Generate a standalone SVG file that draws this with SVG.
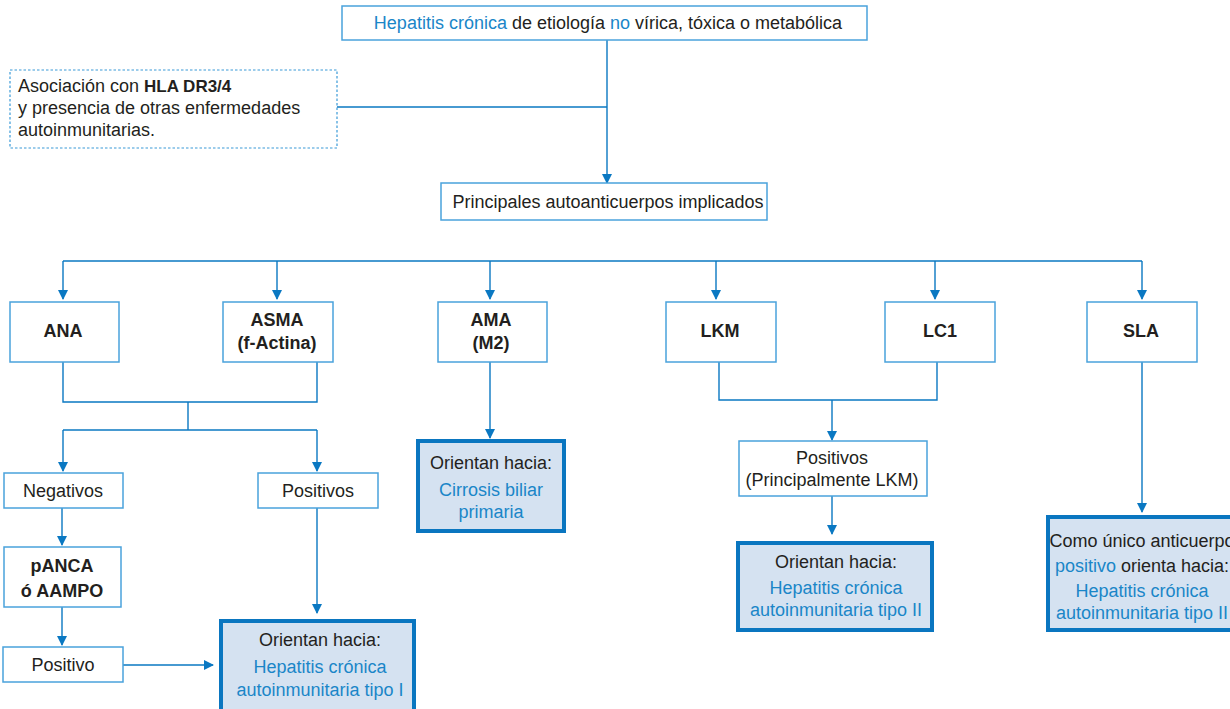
<svg xmlns="http://www.w3.org/2000/svg" width="1230" height="709" viewBox="0 0 1230 709">
<defs>
<marker id="ah" markerWidth="10" markerHeight="10" refX="9" refY="5" orient="auto" markerUnits="userSpaceOnUse">
<path d="M0,0 L10,5 L0,10 Z" fill="#0a78c2"/>
</marker>
<style>
text{font-family:"Liberation Sans Narrow","Liberation Sans",Arial,sans-serif;font-size:18px;fill:#231f20;text-anchor:middle}
.b{font-family:"Liberation Sans",Arial,sans-serif;font-weight:bold;font-size:18px}
.bl{fill:#1a86c8}
.box{fill:#fff;stroke:#4aa2dc;stroke-width:1.5}
.th{fill:#d5e2f1;stroke:#0a76c0;stroke-width:4}
.dot{fill:#fff;stroke:#3a9ad8;stroke-width:1.2;stroke-dasharray:2.5 2}
.ln{fill:none;stroke:#0a78c2;stroke-width:1.4}
</style>
</defs>
<rect width="1230" height="709" fill="#fff"/>
<g id="connectors">
<path class="ln" d="M607,40 V183" marker-end="url(#ah)"/>
<path class="ln" d="M337,107 H607"/>
<path class="ln" d="M63,261 H1142"/>
<path class="ln" d="M63,261 V299" marker-end="url(#ah)"/>
<path class="ln" d="M277,261 V299" marker-end="url(#ah)"/>
<path class="ln" d="M490,261 V299" marker-end="url(#ah)"/>
<path class="ln" d="M716,261 V299" marker-end="url(#ah)"/>
<path class="ln" d="M935,261 V299" marker-end="url(#ah)"/>
<path class="ln" d="M1142,261 V299" marker-end="url(#ah)"/>
<path class="ln" d="M63,362 V402 H317 V362"/>
<path class="ln" d="M188,402 V430"/>
<path class="ln" d="M63,430 H317"/>
<path class="ln" d="M63,430 V471" marker-end="url(#ah)"/>
<path class="ln" d="M317,430 V471" marker-end="url(#ah)"/>
<path class="ln" d="M62,508 V545" marker-end="url(#ah)"/>
<path class="ln" d="M62,607 V645" marker-end="url(#ah)"/>
<path class="ln" d="M123,665 H213" marker-end="url(#ah)"/>
<path class="ln" d="M317,508 V613" marker-end="url(#ah)"/>
<path class="ln" d="M490,362 V438" marker-end="url(#ah)"/>
<path class="ln" d="M719,362 V400 H937 V362"/>
<path class="ln" d="M832,400 V440" marker-end="url(#ah)"/>
<path class="ln" d="M832,496 V534" marker-end="url(#ah)"/>
<path class="ln" d="M1142,362 V512" marker-end="url(#ah)"/>
</g>
<g id="n-top"><rect class="box" x="342" y="6" width="525" height="34"/>
<text x="608" y="29"><tspan class="bl">Hepatitis crónica</tspan> de etiología <tspan class="bl">no</tspan> vírica, tóxica o metabólica</text></g>
<g id="n-hla"><rect class="dot" x="10" y="70" width="327" height="78"/>
<text x="18" y="92" style="text-anchor:start">Asociación con <tspan style="font-family:'Liberation Sans',Arial,sans-serif;font-weight:bold;font-size:17px">HLA DR3/4</tspan></text>
<text x="18" y="114" style="text-anchor:start">y presencia de otras enfermedades</text>
<text x="18" y="136" style="text-anchor:start">autoinmunitarias.</text></g>
<g id="n-principales"><rect class="box" x="441" y="183" width="326" height="37"/>
<text x="608" y="208">Principales autoanticuerpos implicados</text></g>
<g id="n-ana"><rect class="box" x="10" y="302" width="109" height="60"/><text class="b" x="63" y="337">ANA</text></g>
<g id="n-asma"><rect class="box" x="223" y="302" width="110" height="60"/><text class="b" x="277" y="326">ASMA</text><text class="b" x="277" y="349">(f-Actina)</text></g>
<g id="n-ama"><rect class="box" x="438" y="302" width="109" height="60"/><text class="b" x="491" y="326">AMA</text><text class="b" x="491" y="349">(M2)</text></g>
<g id="n-lkm"><rect class="box" x="666" y="302" width="110" height="60"/><text class="b" x="720" y="337">LKM</text></g>
<g id="n-lc1"><rect class="box" x="885" y="302" width="110" height="60"/><text class="b" x="940" y="337">LC1</text></g>
<g id="n-sla"><rect class="box" x="1087" y="302" width="110" height="60"/><text class="b" x="1141" y="337">SLA</text></g>
<g id="n-neg"><rect class="box" x="4" y="473" width="119" height="35"/><text x="63" y="497">Negativos</text></g>
<g id="n-pos1"><rect class="box" x="258" y="473" width="120" height="35"/><text x="318" y="497">Positivos</text></g>
<g id="n-panca"><rect class="box" x="4" y="547" width="117" height="60"/><text class="b" x="62" y="572">pANCA</text><text class="b" x="62" y="597">ó AAMPO</text></g>
<g id="n-positivo"><rect class="box" x="3" y="647" width="120" height="35"/><text x="63" y="671">Positivo</text></g>
<g id="n-tipo1"><rect class="th" x="221" y="621" width="193" height="92"/>
<text x="320" y="646">Orientan hacia:</text><text class="bl" x="320" y="673">Hepatitis crónica</text><text class="bl" x="320" y="696">autoinmunitaria tipo I</text></g>
<g id="n-cbp"><rect class="th" x="418" y="441" width="146" height="90"/>
<text x="491" y="469">Orientan hacia:</text><text class="bl" x="491" y="496">Cirrosis biliar</text><text class="bl" x="491" y="518">primaria</text></g>
<g id="n-pos2"><rect class="box" x="739" y="441" width="188" height="55"/>
<text x="832" y="464">Positivos</text><text x="832" y="486">(Principalmente LKM)</text></g>
<g id="n-tipo2"><rect class="th" x="738" y="543" width="194" height="87"/>
<text x="836" y="568">Orientan hacia:</text><text class="bl" x="836" y="594">Hepatitis crónica</text><text class="bl" x="836" y="616">autoinmunitaria tipo II</text></g>
<g id="n-sla2"><rect class="th" x="1048" y="517" width="200" height="113"/>
<text x="1142" y="547">Como único anticuerpo</text><text x="1142" y="572"><tspan class="bl">positivo</tspan> orienta hacia:</text><text class="bl" x="1142" y="597">Hepatitis crónica</text><text class="bl" x="1142" y="619">autoinmunitaria tipo II</text></g>
</svg>
